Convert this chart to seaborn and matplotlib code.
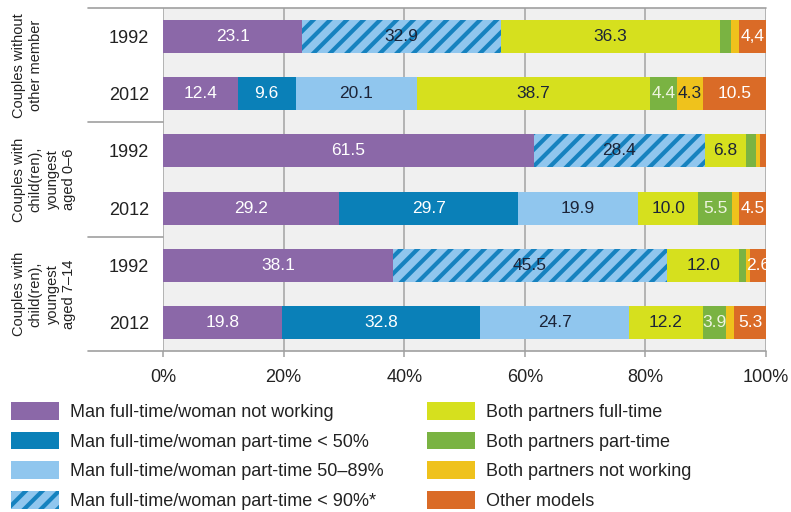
import numpy as np
import pandas as pd
import matplotlib
matplotlib.use("Agg")
import matplotlib.pyplot as plt
from matplotlib.patches import Patch
import seaborn as sns

# rows top -> bottom
groups = ["Couples without\nother member",
          "Couples with\nchild(ren),\nyoungest\naged 0\u20136",
          "Couples with\nchild(ren),\nyoungest\naged 7\u201314"]
years = ["1992", "2012", "1992", "2012", "1992", "2012"]

categories = ["Man full-time/woman not working",
              "Man full-time/woman part-time < 50%",
              "Man full-time/woman part-time 50\u201389%",
              "Man full-time/woman part-time < 90%*",
              "Both partners full-time",
              "Both partners part-time",
              "Both partners not working",
              "Other models"]

man_ft_woman_not = [23.1, 12.4, 61.5, 29.2, 38.1, 19.8]
man_ft_woman_pt_lt50 = [0, 9.6, 0, 29.7, 0, 32.8]
man_ft_woman_pt_50_89 = [0, 20.1, 0, 19.9, 0, 24.7]
man_ft_woman_pt_lt90 = [32.9, 0, 28.4, 0, 45.5, 0]
both_ft = [36.3, 38.7, 6.8, 10.0, 12.0, 12.2]
both_pt = [1.9, 4.4, 1.6, 5.5, 1.1, 3.9]
both_not = [1.4, 4.3, 0.7, 1.2, 0.7, 1.3]
other = [4.4, 10.5, 1.0, 4.5, 2.6, 5.3]

series = [man_ft_woman_not, man_ft_woman_pt_lt50, man_ft_woman_pt_50_89,
          man_ft_woman_pt_lt90, both_ft, both_pt, both_not, other]

colors = ["#8b68a8", "#0a80b8", "#90c6ee", "#90c6ee",
          "#d6e01e", "#7ab342", "#efc21c", "#da6b27"]
text_colors = ["white", "white", "#1c2438", "#1c2438",
               "#1c2438", "#eef4e0", "#1c2438", "white"]
hatched = "Man full-time/woman part-time < 90%*"
hatch_color = "#1682bf"

# the source prints this one with a comma
label_override = {(0, "Other models"): "4,4"}

rows = ["r%d" % i for i in range(len(years))]
df = pd.DataFrame(dict(zip(categories, series)), index=rows)
cum = df.cumsum(axis=1)

sns.set_theme(style="white")
num_font = ["Liberation Sans", "DejaVu Sans"]
txt_font = ["Liberation Sans", "DejaVu Sans"]
plt.rcParams["font.family"] = num_font
plt.rcParams["hatch.linewidth"] = 3.0

fig = plt.figure(figsize=(7.91, 5.12), dpi=100)
ax = fig.add_axes([163 / 791, 1 - 351 / 512, 603 / 791, 343 / 512])
ax.set_facecolor("#f0f0f0")

# draw cumulative bars from the longest back to the shortest
for i in reversed(range(len(categories))):
    cat = categories[i]
    n0 = len(ax.patches)
    sns.barplot(x=cum[cat].values, y=rows, order=rows, orient="h",
                color=colors[i], saturation=1, width=0.58, linewidth=0, ax=ax)
    if cat == hatched:
        for p in ax.patches[n0:]:
            p.set_hatch("//")
            p.set_edgecolor(hatch_color)
            p.set_linewidth(0)

# value labels
for i, cat in enumerate(categories):
    for r, row in enumerate(rows):
        v = df.loc[row, cat]
        if v < 2.5:
            continue
        xc = cum.loc[row, cat] - v / 2
        s = label_override.get((r, cat), "%.1f" % v)
        ax.text(xc, r, s, ha="center", va="center", fontsize=12.5,
                color=text_colors[i])

ax.set_xlim(0, 100)
ax.set_ylim(5.5, -0.5)
ax.set_xticks(range(0, 101, 20))
ax.set_xticklabels(["%d%%" % t for t in range(0, 101, 20)], fontsize=13)
ax.set_yticks(range(len(rows)))
ax.set_yticklabels(years, fontsize=13)
ax.set_xlabel("")
ax.set_ylabel("")
ax.tick_params(axis="y", length=0, pad=10, colors="#222222")
ax.tick_params(axis="x", length=4, width=1.2, color="#a8a8a8", pad=9,
               labelcolor="#222222", bottom=True)
ax.xaxis.grid(True, color="#a8a8a8", linewidth=1.2)
ax.set_axisbelow(True)
for sp in ax.spines.values():
    sp.set_visible(False)

# frame lines reaching into the label area
left_ext = (88 - 163) / 603
for y in [-0.5, 1.5, 3.5, 5.5]:
    ax.axhline(y, xmin=left_ext, xmax=1 if y in (-0.5, 5.5) else 0,
               color="#a0a0a0", linewidth=1.2, clip_on=False)

# group labels
for g, name in enumerate(groups):
    yc = 2 * g + 0.5
    yfig = fig.transFigure.inverted().transform(ax.transData.transform((0, yc)))[1]
    fig.text(12 / 791, yfig, name, rotation=90, ha="left", va="center",
             multialignment="center", fontsize=10.5, linespacing=1.25,
             family=txt_font, color="#222222")

# legend, two columns
handles = []
for i, cat in enumerate(categories):
    if cat == hatched:
        handles.append(Patch(facecolor=colors[i], edgecolor=hatch_color,
                             hatch="//", linewidth=0, label=cat))
    else:
        handles.append(Patch(facecolor=colors[i], linewidth=0, label=cat))

leg_kw = dict(frameon=False, loc="upper left", borderpad=0, borderaxespad=0,
              handlelength=2.65, handleheight=1.15, handletextpad=0.6,
              labelspacing=0.58, prop={"family": txt_font, "size": 13})
leg1 = fig.legend(handles=handles[:4], bbox_to_anchor=(11 / 791, 1 - 402 / 512), **leg_kw)
leg2 = fig.legend(handles=handles[4:], bbox_to_anchor=(427 / 791, 1 - 402 / 512), **leg_kw)
for leg in (leg1, leg2):
    for t in leg.get_texts():
        t.set_color("#222222")

fig.savefig("out.png", dpi=100)
